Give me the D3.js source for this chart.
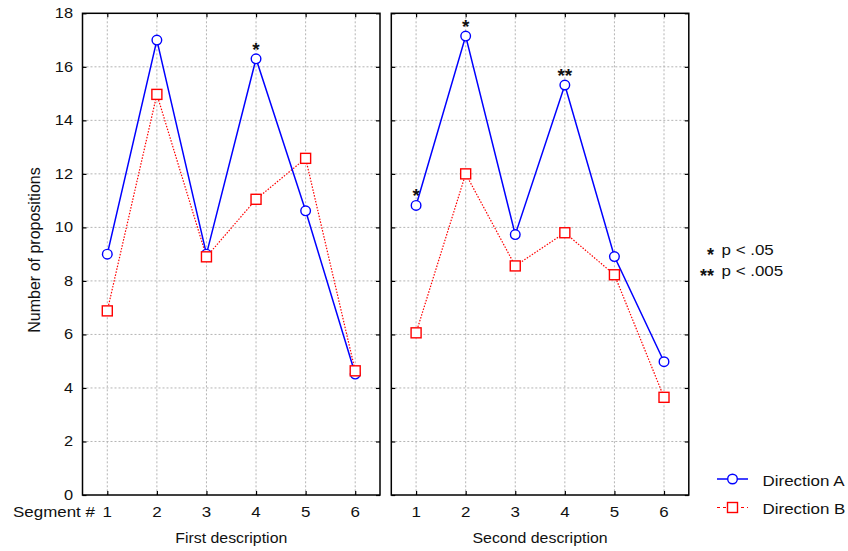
<!DOCTYPE html>
<html><head><meta charset="utf-8">
<script src="https://cdn.jsdelivr.net/npm/d3@7"></script>
<style>body{margin:0;background:#fff}svg{display:block;font-family:"Liberation Sans",Arial,sans-serif}</style>
</head><body><svg id="c" width="848" height="551"></svg>
<script>
const segments = [1, 2, 3, 4, 5, 6];
const yTicks = [0, 2, 4, 6, 8, 10, 12, 14, 16, 18];
const panelTitles = ["First description", "Second description"];
const seriesNames = ["Direction A", "Direction B"];
const firstA = [9.0, 17.0, 9.0, 16.3, 10.62, 4.52];
const firstB = [6.88, 14.97, 8.9, 11.05, 12.58, 4.64];
const secondA = [10.82, 17.15, 9.73, 15.32, 8.91, 4.98];
const secondB = [6.06, 12.0, 8.56, 9.8, 8.23, 3.65];
const firstStars = [null, null, null, "*", null, null];
const secondStars = ["*", "*", null, "**", null, null];
const sigLabels = [["*", "p < .05"], ["**", "p < .005"]];

const svg = d3.select("#c");
const plotTop = 13.3, plotBottom = 495;
const y = d3.scaleLinear().domain([0, 18]).range([plotBottom, plotTop]);
const panels = [
  {x0: 82.5, x1: 380, A: firstA, B: firstB, stars: firstStars, title: panelTitles[0]},
  {x0: 391.3, x1: 688.8, A: secondA, B: secondB, stars: secondStars, title: panelTitles[1]}
];
const blue = "#0000ff", red = "#ff0000";

// text helper with slight horizontal stretch like the reference
function txt(parent, x, yy, s, size, anchor, sx) {
  return parent.append("text")
    .attr("transform", `translate(${x},${yy}) scale(${sx || 1.13},1)`)
    .attr("text-anchor", anchor || "start")
    .attr("font-size", size).attr("fill", "#111").text(s);
}

panels.forEach((p, pi) => {
  const x = d3.scaleLinear().domain([0.5, 6.5]).range([p.x0, p.x1]);
  const g = svg.append("g");
  g.selectAll(".vg").data(segments).join("line")
    .attr("x1", d => x(d)).attr("x2", d => x(d)).attr("y1", plotTop).attr("y2", plotBottom)
    .attr("stroke", "#b4b4b4").attr("stroke-dasharray", "2,2").attr("stroke-width", 1);
  g.selectAll(".hg").data(yTicks.slice(1, -1)).join("line")
    .attr("x1", p.x0).attr("x2", p.x1).attr("y1", d => y(d)).attr("y2", d => y(d))
    .attr("stroke", "#b4b4b4").attr("stroke-dasharray", "2,2").attr("stroke-width", 1);
  const bAx = d3.axisBottom(x).tickValues(segments).tickSize(-4).tickFormat("");
  const tAx = d3.axisTop(x).tickValues(segments).tickSize(-4).tickFormat("");
  const lAx = d3.axisLeft(y).tickValues(yTicks).tickSize(-4).tickFormat("");
  const rAx = d3.axisRight(y).tickValues(yTicks).tickSize(-4).tickFormat("");
  [[bAx, `translate(0,${plotBottom})`], [tAx, `translate(0,${plotTop})`], [lAx, `translate(${p.x0},0)`], [rAx, `translate(${p.x1},0)`]]
    .forEach(([ax, tr]) => {
      const a = g.append("g").attr("transform", tr).call(ax);
      a.select(".domain").remove();
      a.selectAll("line").attr("stroke", "#000").attr("stroke-width", 1.2);
    });
  segments.forEach(d => txt(g, x(d), 517, d, 15, "middle"));
  txt(g, (p.x0 + p.x1) / 2, 543, p.title, 15, "middle", 1.06);
  g.append("rect").attr("x", p.x0).attr("y", plotTop).attr("width", p.x1 - p.x0).attr("height", plotBottom - plotTop)
    .attr("fill", "none").attr("stroke", "#000").attr("stroke-width", 1.5);
  const line = d3.line().x((d, i) => x(segments[i])).y(d => y(d));
  g.append("path").attr("d", line(p.B)).attr("fill", "none").attr("stroke", red)
    .attr("stroke-width", 1.2).attr("stroke-dasharray", "1.5,1.5");
  g.append("path").attr("d", line(p.A)).attr("fill", "none").attr("stroke", blue).attr("stroke-width", 1.5);
  g.selectAll(".pa").data(p.A).join("circle")
    .attr("cx", (d, i) => x(segments[i])).attr("cy", d => y(d)).attr("r", 4.8)
    .attr("fill", "#fff").attr("stroke", blue).attr("stroke-width", 1.4);
  g.selectAll(".pb").data(p.B).join("rect")
    .attr("x", (d, i) => x(segments[i]) - 5).attr("y", d => y(d) - 5)
    .attr("width", 10).attr("height", 10)
    .attr("fill", "#fff").attr("stroke", red).attr("stroke-width", 1.4);
  g.selectAll(".st").data(p.A.map((v, i) => ({v, i, s: p.stars[i]})).filter(d => d.s)).join("text")
    .attr("x", d => x(segments[d.i])).attr("y", d => y(d.v) - 3).attr("text-anchor", "middle")
    .attr("font-size", 19).attr("font-weight", "bold").attr("fill", "#111").text(d => d.s);
});

yTicks.forEach(d => txt(svg, 73, y(d) + 5, d, 14.5, "end"));
svg.append("text").attr("transform", "translate(40,250) rotate(-90)").attr("text-anchor", "middle")
  .attr("font-size", 16).attr("fill", "#111").text("Number of propositions");
txt(svg, 13, 517, "Segment #", 15, "start");

sigLabels.forEach((s, i) => {
  const yy = i === 0 ? 254.5 : 276;
  svg.append("text").attr("x", 714).attr("y", yy + 6).attr("text-anchor", "end")
    .attr("font-size", 18).attr("font-weight", "bold").attr("fill", "#111").text(s[0]);
  txt(svg, 721.5, yy, s[1], 15, "start");
});

seriesNames.forEach((n, i) => {
  const yy = 479 + i * 28.5;
  const c = i === 0 ? blue : red;
  svg.append("line").attr("x1", 717).attr("x2", 748).attr("y1", yy).attr("y2", yy)
    .attr("stroke", c).attr("stroke-width", i === 0 ? 1.5 : 1.2).attr("stroke-dasharray", i === 0 ? null : "3,3");
  if (i === 0) svg.append("circle").attr("cx", 732.5).attr("cy", yy).attr("r", 4.8)
    .attr("fill", "#fff").attr("stroke", c).attr("stroke-width", 1.4);
  else svg.append("rect").attr("x", 727.5).attr("y", yy - 5).attr("width", 10).attr("height", 10)
    .attr("fill", "#fff").attr("stroke", c).attr("stroke-width", 1.4);
  txt(svg, 762.5, yy + 6.5, n, 15, "start");
});
</script></body></html>
